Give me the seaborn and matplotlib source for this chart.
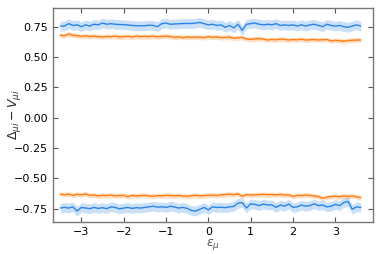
import matplotlib
matplotlib.use("Agg")
import matplotlib.pyplot as plt
import seaborn as sns
import numpy as np
import pandas as pd

x = np.round(np.arange(-3.5, 3.65, 0.1), 2)

blue_top = [0.755, 0.755, 0.775, 0.760, 0.765, 0.750, 0.765, 0.755, 0.770, 0.765,
            0.780, 0.770, 0.775, 0.770, 0.768, 0.766, 0.764, 0.760, 0.758, 0.757,
            0.758, 0.762, 0.760, 0.750, 0.775, 0.780, 0.770, 0.772, 0.774, 0.776,
            0.777, 0.776, 0.780, 0.785, 0.775, 0.765, 0.770, 0.760, 0.765, 0.745,
            0.760, 0.740, 0.770, 0.720, 0.770, 0.775, 0.780, 0.770, 0.765, 0.770,
            0.765, 0.775, 0.760, 0.765, 0.760, 0.765, 0.755, 0.765, 0.755, 0.765,
            0.770, 0.760, 0.750, 0.770, 0.760, 0.755, 0.760, 0.750, 0.745, 0.755,
            0.765, 0.755]
orange_top = [0.680, 0.675, 0.690, 0.680, 0.675, 0.670, 0.675, 0.668, 0.672, 0.668,
              0.665, 0.670, 0.668, 0.672, 0.665, 0.668, 0.670, 0.665, 0.672, 0.668,
              0.670, 0.668, 0.672, 0.666, 0.670, 0.672, 0.668, 0.663, 0.666, 0.660,
              0.665, 0.662, 0.664, 0.663, 0.660, 0.668, 0.662, 0.666, 0.660, 0.662,
              0.665, 0.655, 0.658, 0.662, 0.648, 0.645, 0.650, 0.652, 0.648, 0.640,
              0.645, 0.642, 0.648, 0.645, 0.640, 0.644, 0.642, 0.646, 0.640, 0.642,
              0.644, 0.640, 0.642, 0.645, 0.632, 0.638, 0.634, 0.630, 0.636, 0.638,
              0.640, 0.640]
orange_bot = [-0.630, -0.635, -0.630, -0.640, -0.632, -0.636, -0.628, -0.640, -0.638, -0.645,
              -0.640, -0.642, -0.638, -0.645, -0.642, -0.640, -0.652, -0.640, -0.645, -0.642,
              -0.640, -0.645, -0.648, -0.642, -0.645, -0.640, -0.642, -0.645, -0.640, -0.646,
              -0.648, -0.644, -0.640, -0.645, -0.642, -0.640, -0.638, -0.642, -0.636, -0.634,
              -0.630, -0.635, -0.628, -0.648, -0.634, -0.638, -0.636, -0.634, -0.632, -0.635,
              -0.634, -0.636, -0.632, -0.638, -0.636, -0.650, -0.640, -0.642, -0.638, -0.640,
              -0.645, -0.650, -0.665, -0.655, -0.650, -0.648, -0.652, -0.645, -0.650, -0.645,
              -0.652, -0.660]
blue_bot = [-0.745, -0.740, -0.745, -0.735, -0.770, -0.740, -0.745, -0.750, -0.740, -0.748,
            -0.742, -0.750, -0.735, -0.740, -0.752, -0.745, -0.740, -0.748, -0.742, -0.745,
            -0.740, -0.735, -0.730, -0.738, -0.734, -0.740, -0.730, -0.736, -0.745, -0.740,
            -0.748, -0.765, -0.770, -0.755, -0.740, -0.760, -0.735, -0.740, -0.738, -0.742,
            -0.735, -0.732, -0.705, -0.700, -0.745, -0.710, -0.715, -0.725, -0.712, -0.720,
            -0.718, -0.740, -0.720, -0.730, -0.712, -0.740, -0.735, -0.720, -0.730, -0.725,
            -0.710, -0.725, -0.720, -0.735, -0.730, -0.715, -0.725, -0.700, -0.690, -0.755,
            -0.735, -0.740]

blue_spread = 0.04
orange_spread = 0.02

blue = "#2a84e6"
orange = "#ff7d13"

sns.set_style("ticks")
plt.rcParams['font.family'] = ['DejaVu Sans']

fig = plt.figure(figsize=(3.81, 2.54), dpi=100)
ax = fig.add_axes([0.139, 0.126, 0.840, 0.843])

series = [(blue_top, blue, blue_spread), (orange_top, orange, orange_spread),
          (orange_bot, orange, orange_spread), (blue_bot, blue, blue_spread)]
for vals, col, sp in series:
    df = pd.DataFrame({"x": x, "y": vals})
    v = np.array(vals)
    ax.fill_between(x, v - sp, v + sp, color=col, alpha=0.25, lw=0)
    sns.lineplot(data=df, x="x", y="y", color=col, lw=1.0, ax=ax)

ax.set_xlim(-3.67, 3.89)
ax.set_ylim(-0.86, 0.905)
ax.set_yticks([-0.75, -0.5, -0.25, 0.0, 0.25, 0.5, 0.75])
ax.set_xticks([-3, -2, -1, 0, 1, 2, 3])
ax.set_xlabel(r"$\varepsilon_\mu$", fontsize=9, color="#555555", labelpad=0)
ax.set_ylabel(r"$\Delta_{\mu i} - V_{\mu i}$", fontsize=9)
ax.yaxis.set_label_coords(-0.095, 0.5)
ax.tick_params(direction="in", top=True, right=True, labelsize=8, length=3.5,
               color="#555555", labelcolor="black")
for s in ax.spines.values():
    s.set_color("#777777")
    s.set_linewidth(1.0)

fig.savefig("out.png", dpi=100)
